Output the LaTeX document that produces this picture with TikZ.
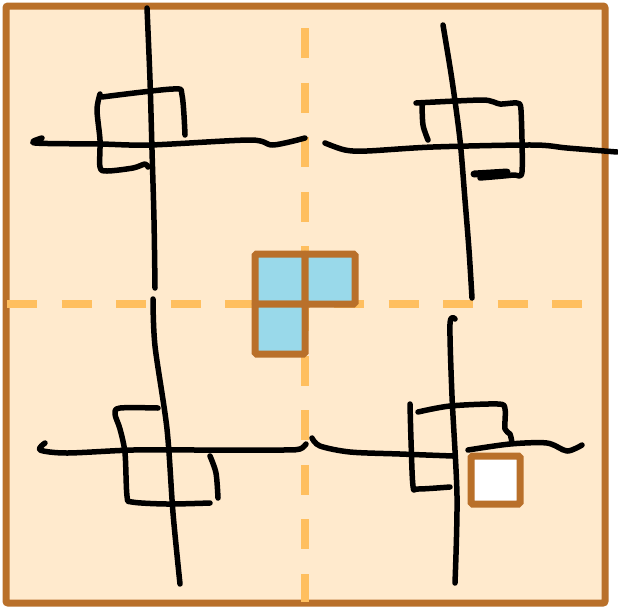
\documentclass[tikz,border=0pt]{standalone}
\usepackage{tikz}

\definecolor{paper}{HTML}{FFEACD}
\definecolor{rim}{HTML}{B9702A}
\definecolor{guide}{HTML}{FFBF5F}
\definecolor{tile}{HTML}{99D9EA}

\tikzset{
  pen/.style={line width=5.5pt, line cap=round, line join=round},
  cell/.style={draw=rim, line width=7pt, rounded corners=1.5pt},
}

\begin{document}
\begin{tikzpicture}[x=1pt, y=-1pt]
    \useasboundingbox (0,0) rectangle (618,606);

    % board
    \draw[rim, fill=paper, line width=7pt, rounded corners=2pt] (6,6) rectangle (605,603);

    % guide lines
    \draw[guide, line width=8pt, dash pattern=on 30pt off 24.6pt] (305,28) -- (305,602);
    \draw[guide, line width=8pt, dash pattern=on 30pt off 24.5pt] (7,304) -- (583,304);

    % top left
    \draw[pen] plot[smooth] coordinates {(147,8) (150,80) (152,150) (154,220) (155,288)};
    \draw[pen] plot[smooth] coordinates {(42,138) (35,143) (100,144) (150,145) (250,140) (273,145) (305,138)};
    \draw[pen] plot[smooth] coordinates {(185,135) (182,95) (173,89) (102,97)};
    \draw[pen] plot[smooth] coordinates {(100,94) (97,110) (100,140) (100,167) (107,171) (133,168) (145,164) (148,167)};

    % top right
    \draw[pen] plot[smooth] coordinates {(443,25) (452,80) (460,140) (465,200) (469,250) (472,298)};
    \draw[pen] plot[smooth] coordinates {(325,143) (345,150) (367,151) (433,147) (533,145) (567,148) (617,152)};
    \draw[pen] plot[smooth] coordinates {(428,140) (423,125) (422,103)};
    \draw[pen] plot[smooth, tension=0.4] coordinates {(416,103) (483,100) (500,104) (517,103) (521,110) (522,172) (513,175) (480,178)};
    \draw[pen, line width=7pt] (474,174) -- (507,172);

    % bottom left
    \draw[pen] plot[smooth] coordinates {(153,299) (155,346) (167,429) (173,513) (180,584)};
    \draw[pen] plot[smooth] coordinates {(45,443) (40,450) (67,453) (133,450) (200,450) (283,450) (300,449) (306,444)};
    \draw[pen] plot[smooth] coordinates {(158,408) (120,408) (115,414) (120,429) (125,453) (127,496) (132,502) (167,504) (210,503)};
    \draw[pen] plot[smooth] coordinates {(210,456) (216,473) (218,498)};

    % bottom right
    \draw[pen] plot[smooth] coordinates {(455,319) (450,324) (452,396) (457,496) (455,583)};
    \draw[pen] plot[smooth] coordinates {(312,438) (320,446) (350,452) (400,454) (453,456)};
    \draw[pen] plot[smooth] coordinates {(468,450) (510,444) (547,443) (567,451) (582,445)};
    \draw[pen] plot[smooth] coordinates {(410,404) (411,440) (413,486) (418,489) (450,487)};
    \draw[pen] plot[smooth] coordinates {(418,412) (450,406) (498,404) (505,409) (505,429) (510,434) (512,443)};

    % tromino
    \draw[cell, fill=tile] (255,254) rectangle (305,304);
    \draw[cell, fill=tile] (305,254) rectangle (355,304);
    \draw[cell, fill=tile] (255,304) rectangle (305,354);

    % empty cell
    \draw[cell, fill=white] (471,456) rectangle (520,504);
\end{tikzpicture}
\end{document}
